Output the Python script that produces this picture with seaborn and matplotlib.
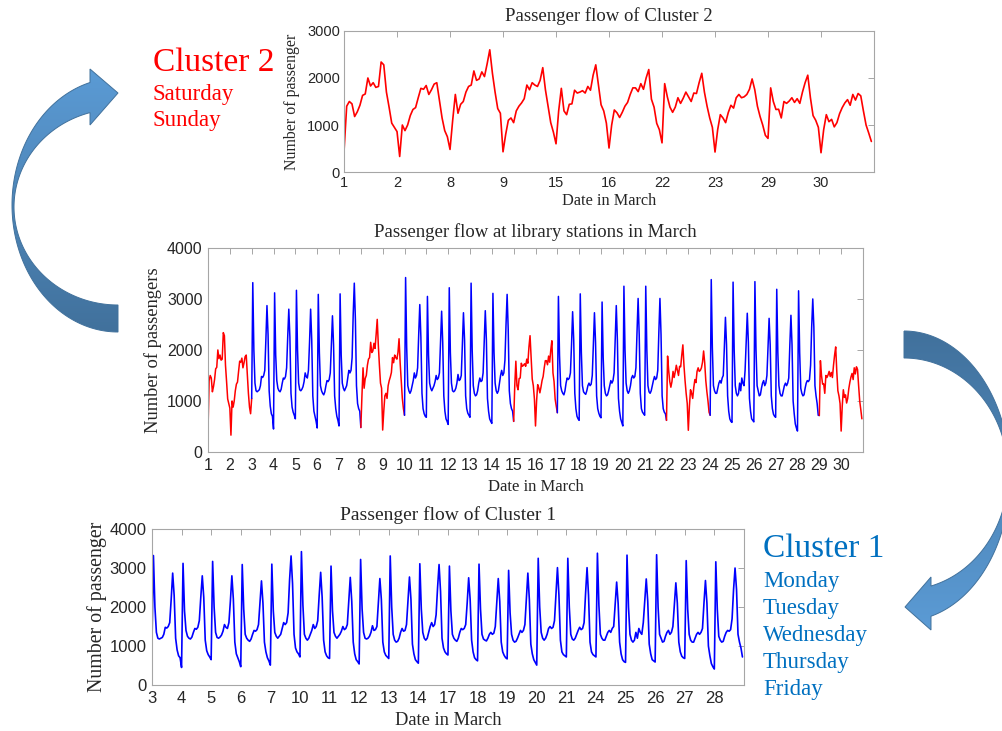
import numpy as np
import pandas as pd
import matplotlib
matplotlib.use('Agg')
import matplotlib.pyplot as plt
import seaborn as sns
from matplotlib.patches import Polygon
from matplotlib.colors import LinearSegmentedColormap

# --- data: passengers per time slot, 20 slots per service day ---
weekend_dates = [1, 2, 8, 9, 15, 16, 22, 23, 29, 30]
weekday_dates = [3, 4, 5, 6, 7, 10, 11, 12, 13, 14, 17, 18, 19, 20, 21, 24, 25, 26, 27, 28]

weekend_flow = [
    [440, 1400, 1500, 1450, 1180, 1280, 1420, 1630, 1660, 2000, 1830, 1900, 1800, 1820, 2340, 2280, 1700, 1380, 1040, 950],
    [860, 330, 1000, 880, 1000, 1200, 1330, 1370, 1580, 1780, 1760, 1840, 1650, 1750, 1870, 1900, 1520, 1150, 880, 750],
    [480, 1100, 1650, 1250, 1440, 1500, 1700, 1820, 1850, 2150, 1950, 1980, 2130, 2030, 2300, 2600, 2100, 1700, 1350, 1250],
    [430, 800, 1100, 1150, 1050, 1300, 1400, 1470, 1560, 1850, 1750, 1900, 1850, 1820, 1950, 2220, 1750, 1400, 1050, 850],
    [600, 1300, 1780, 1300, 1220, 1440, 1450, 1740, 1680, 1700, 1730, 1680, 1820, 1740, 2060, 2280, 1850, 1430, 1300, 1040],
    [510, 1000, 1320, 1260, 1160, 1270, 1400, 1480, 1650, 1790, 1790, 1710, 1880, 1760, 2000, 2180, 1550, 1380, 1035, 900],
    [620, 1880, 1600, 1380, 1270, 1380, 1580, 1460, 1570, 1700, 1600, 1500, 1680, 1670, 1900, 2100, 1700, 1400, 1150, 950],
    [425, 900, 1220, 1150, 1050, 1265, 1420, 1360, 1580, 1650, 1580, 1600, 1650, 1760, 1980, 1750, 1400, 1180, 1000, 780],
    [715, 1790, 1500, 1330, 1335, 1150, 1500, 1460, 1510, 1580, 1480, 1560, 1460, 1700, 1900, 2060, 1580, 1200, 1100, 950],
    [410, 900, 1220, 1070, 1120, 960, 1050, 1240, 1370, 1470, 1540, 1420, 1650, 1530, 1670, 1620, 1300, 1000, 830, 650],
]

weekday_flow = [
    [1050, 3320, 2000, 1350, 1200, 1180, 1200, 1220, 1300, 1480, 1460, 1500, 1600, 2200, 2870, 2300, 1200, 900, 750, 700],
    [450, 3120, 1900, 1400, 1250, 1200, 1180, 1230, 1350, 1450, 1430, 1480, 1650, 2250, 2800, 2250, 1150, 880, 780, 720],
    [650, 3170, 2000, 1350, 1220, 1200, 1230, 1280, 1380, 1550, 1480, 1450, 1600, 2150, 2800, 2200, 1100, 800, 700, 600],
    [470, 3090, 1950, 1300, 1200, 1150, 1120, 1180, 1300, 1400, 1380, 1420, 1550, 2100, 2670, 2100, 1100, 850, 700, 620],
    [510, 3100, 1900, 1350, 1250, 1200, 1250, 1300, 1450, 1600, 1550, 1600, 1850, 2700, 3310, 2600, 1300, 950, 850, 800],
    [720, 3420, 2050, 1300, 1200, 1150, 1200, 1300, 1400, 1550, 1450, 1500, 1650, 2300, 2890, 2250, 1150, 850, 750, 700],
    [680, 3050, 1900, 1350, 1250, 1200, 1250, 1300, 1380, 1500, 1420, 1450, 1550, 2150, 2760, 2150, 1100, 800, 650, 600],
    [540, 3220, 1950, 1350, 1200, 1180, 1200, 1250, 1350, 1520, 1400, 1420, 1500, 2100, 2730, 2200, 1100, 850, 760, 720],
    [680, 3310, 2000, 1300, 1150, 1100, 1120, 1200, 1350, 1450, 1380, 1400, 1550, 2150, 2770, 2200, 1050, 800, 650, 600],
    [560, 3110, 1950, 1350, 1200, 1150, 1200, 1350, 1500, 1600, 1500, 1550, 1800, 2500, 3090, 2400, 1200, 950, 850, 800],
    [770, 3050, 1900, 1300, 1200, 1150, 1120, 1200, 1350, 1450, 1420, 1450, 1550, 2100, 2750, 2200, 1150, 850, 700, 650],
    [620, 3100, 1950, 1300, 1180, 1150, 1130, 1200, 1300, 1350, 1300, 1330, 1500, 2100, 2730, 2150, 1100, 850, 760, 700],
    [670, 2940, 1850, 1300, 1150, 1100, 1120, 1200, 1300, 1400, 1350, 1400, 1550, 2200, 2870, 2200, 1050, 800, 650, 580],
    [510, 3250, 2000, 1350, 1200, 1150, 1200, 1300, 1450, 1500, 1450, 1480, 1650, 2350, 3010, 2300, 1150, 850, 780, 750],
    [720, 3250, 2000, 1300, 1180, 1150, 1200, 1300, 1400, 1480, 1420, 1450, 1600, 2350, 3010, 2300, 1100, 850, 780, 750],
    [720, 3380, 2050, 1300, 1200, 1150, 1150, 1250, 1350, 1400, 1350, 1450, 1500, 2050, 2640, 2100, 1100, 800, 650, 600],
    [580, 3330, 2000, 1300, 1150, 1100, 1150, 1350, 1200, 1450, 1350, 1300, 1600, 2150, 2720, 2150, 1050, 800, 650, 620],
    [590, 3340, 2000, 1300, 1200, 1100, 1120, 1250, 1350, 1400, 1300, 1350, 1500, 2050, 2620, 2100, 1100, 850, 740, 700],
    [680, 3190, 1950, 1300, 1150, 1100, 1100, 1200, 1300, 1350, 1300, 1350, 1450, 2100, 2680, 2100, 1000, 750, 550, 470],
    [410, 3160, 1950, 1250, 1150, 1100, 1120, 1250, 1350, 1400, 1380, 1420, 1700, 2450, 3000, 2450, 1300, 1100, 950, 720],
]

RED = '#ff0000'
BLUE = '#0000ff'
SERIF = 'Liberation Serif'
SANS = 'Liberation Sans'

slots = np.arange(20) / 20  # time of day as fraction of a service day

rows = []
for dates, flows, name in [(weekend_dates, weekend_flow, 'Cluster 2'), (weekday_dates, weekday_flow, 'Cluster 1')]:
    for i, (d, vals) in enumerate(zip(dates, flows)):
        for s, v in zip(slots, vals):
            rows.append((d, i, s, v, name))
df = pd.DataFrame(rows, columns=['date', 'day_idx', 'slot', 'flow', 'cluster'])
df = df.sort_values(['date', 'slot']).reset_index(drop=True)
df['pos'] = df['date'] + df['slot']
df['cpos'] = df['day_idx'] + df['slot']
df['run'] = (df['cluster'] != df['cluster'].shift()).cumsum()

sns.set_theme(style='white')
plt.rcParams['font.family'] = [SERIF, 'DejaVu Serif']

fig = plt.figure(figsize=(10.03, 7.31), dpi=100)

# background axes in pixel coordinates for arrows and labels
bg = fig.add_axes([0, 0, 1, 1], zorder=0)
bg.set_xlim(0, 1003)
bg.set_ylim(731, 0)
bg.axis('off')


def ring(cx, cy, rx, ry, t0, t1, n=120):
    t = np.radians(np.linspace(t0, t1, n))
    return np.column_stack([cx + rx * np.cos(t), cy - ry * np.sin(t)])


def block_arrow(pts, top_col, bot_col):
    poly = Polygon(pts, closed=True, facecolor='none', edgecolor='#41719c', lw=0.7, zorder=3)
    bg.add_patch(poly)
    cmap = LinearSegmentedColormap.from_list('grad', [top_col, bot_col])
    grad = np.linspace(0, 1, 256).reshape(-1, 1)
    im = bg.imshow(grad, cmap=cmap, aspect='auto', origin='upper', zorder=2,
                   extent=[pts[:, 0].min(), pts[:, 0].max(), pts[:, 1].max(), pts[:, 1].min()])
    im.set_clip_path(poly)


# left arrow: from middle chart up to cluster 2
th_o = np.degrees(np.arccos((90 - 118) / 106))
th_i = np.degrees(np.arccos((90 - 118) / 104))
outer = ring(118, 205, 106, 127, 270, th_o)
inner = ring(118, 207, 104, 98, th_i, 270)
left_pts = np.vstack([[[90, 69], [118, 93], [90, 125]], inner, outer])
block_arrow(left_pts, '#5b9bd5', '#41719c')

# right arrow: from middle chart down to cluster 1
th_o = -np.degrees(np.arccos((931 - 904) / 106))
th_i = -np.degrees(np.arccos((931 - 904) / 104))
outer = ring(904, 476, 106, 145, 90, th_o)
inner = ring(904, 474, 104, 116, th_i, 90)
right_pts = np.vstack([outer, [[931, 630], [905, 607], [931, 577]], inner])
block_arrow(right_pts, '#41719c', '#5b9bd5')

bg.set_xlim(0, 1003)
bg.set_ylim(731, 0)

# cluster captions
bg.text(153, 71, 'Cluster 2', color=RED, fontsize=24, va='baseline')
for k, day in enumerate(['Saturday', 'Sunday']):
    bg.text(153, 100 + 26 * k, day, color=RED, fontsize=16.5, va='baseline')
bg.text(763, 557, 'Cluster 1', color='#0070c0', fontsize=24, va='baseline')
for k, day in enumerate(['Monday', 'Tuesday', 'Wednesday', 'Thursday', 'Friday']):
    bg.text(763, 587 + 27 * k, day, color='#0070c0', fontsize=16.5, va='baseline')


def style_axes(ax, tick_fs, pad=4):
    for sp in ax.spines.values():
        sp.set_visible(True)
        sp.set_color('#a6a6a6')
        sp.set_linewidth(0.8)
    ax.tick_params(direction='in', length=4, width=0.7, color='#a6a6a6', top=True, right=True,
                   labelcolor='#262626', labelsize=tick_fs, pad=pad)
    for lab in ax.get_xticklabels() + ax.get_yticklabels():
        lab.set_fontfamily(SANS)
    ax.grid(False)


# --- top: cluster 2 ---
ax1 = fig.add_axes([0.3430, 0.7647, 0.5284, 0.1929], zorder=1)
c2 = df[df['cluster'] == 'Cluster 2']
sns.lineplot(ax=ax1, data=c2, x='cpos', y='flow', color=RED, lw=1.2, estimator=None, sort=False)
ax1.set_xlim(0, len(weekend_dates))
ax1.set_ylim(0, 3000)
ax1.set_xticks(range(len(weekend_dates)))
ax1.set_xticklabels([str(d) for d in weekend_dates])
ax1.set_yticks([0, 1000, 2000, 3000])
style_axes(ax1, 10.5, pad=3)
ax1.set_title('Passenger flow of Cluster 2', fontsize=13.5, pad=7)
ax1.set_xlabel('Date in March', fontsize=11.7)
ax1.set_ylabel('Number of passenger', fontsize=11.4)
ax1.xaxis.set_label_coords(0.5, -0.15)
ax1.yaxis.set_label_coords(-0.083, 0.5)

# --- middle: whole month ---
ax2 = fig.add_axes([0.2074, 0.3817, 0.6530, 0.2791], zorder=1)
for run_id, seg in df.groupby('run'):
    nxt = df.loc[seg.index.max() + 1: seg.index.max() + 1]
    seg = pd.concat([seg, nxt])
    col = RED if seg['cluster'].iloc[0] == 'Cluster 2' else BLUE
    sns.lineplot(ax=ax2, data=seg, x='pos', y='flow', color=col, lw=1.1, estimator=None, sort=False)
ax2.set_xlim(1, 31)
ax2.set_ylim(0, 4000)
ax2.set_xticks(range(1, 31))
ax2.set_yticks([0, 1000, 2000, 3000, 4000])
style_axes(ax2, 11.5)
ax2.set_title('Passenger flow at library stations in March', fontsize=13.5, pad=8)
ax2.set_xlabel('Date in March', fontsize=12)
ax2.set_ylabel('Number of passengers', fontsize=13.3)
ax2.xaxis.set_label_coords(0.5, -0.13)
ax2.yaxis.set_label_coords(-0.070, 0.5)

# --- bottom: cluster 1 ---
ax3 = fig.add_axes([0.1515, 0.0629, 0.5902, 0.2134], zorder=1)
c1 = df[df['cluster'] == 'Cluster 1']
sns.lineplot(ax=ax3, data=c1, x='cpos', y='flow', color=BLUE, lw=1.2, estimator=None, sort=False)
ax3.set_xlim(0, len(weekday_dates))
ax3.set_ylim(0, 4000)
ax3.set_xticks(range(len(weekday_dates)))
ax3.set_xticklabels([str(d) for d in weekday_dates])
ax3.set_yticks([0, 1000, 2000, 3000, 4000])
style_axes(ax3, 12)
ax3.set_title('Passenger flow of Cluster 1', fontsize=14, pad=6.5)
ax3.set_xlabel('Date in March', fontsize=13.2)
ax3.set_ylabel('Number of passenger', fontsize=14.3)
ax3.xaxis.set_label_coords(0.5, -0.175)
ax3.yaxis.set_label_coords(-0.076, 0.5)

for ax in (ax1, ax2, ax3):
    if ax.get_legend() is not None:
        ax.get_legend().remove()

fig.savefig('out.png', dpi=100)
